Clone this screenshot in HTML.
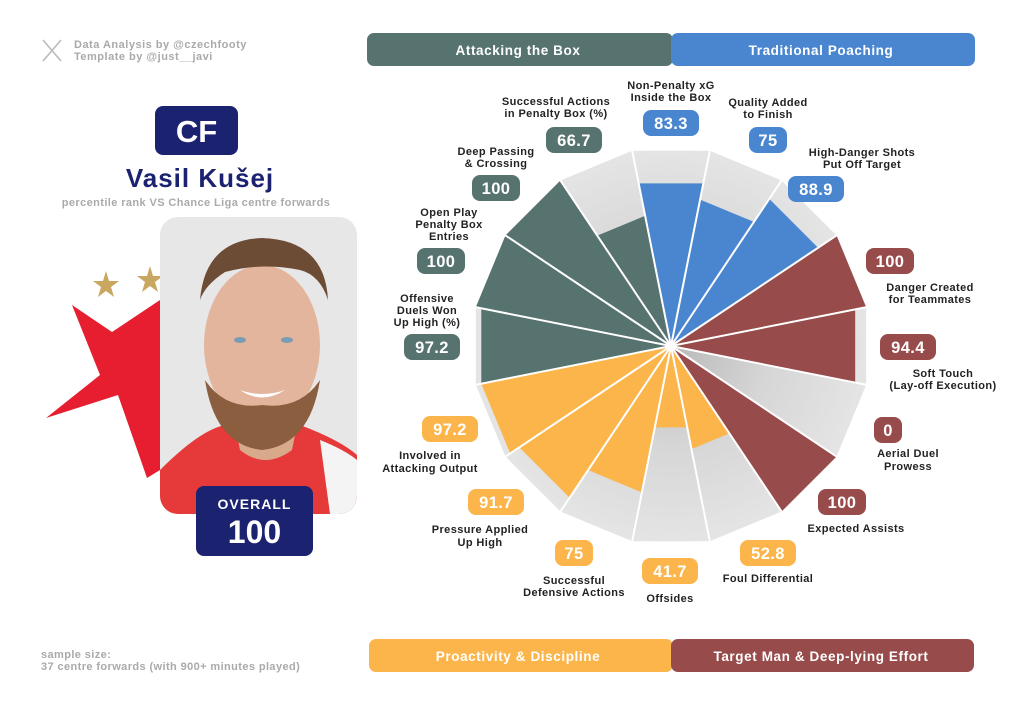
<!DOCTYPE html>
<html><head><meta charset="utf-8"><style>
body{margin:0;width:1024px;height:703px;background:#fff;overflow:hidden;font-family:"Liberation Sans","DejaVu Sans",sans-serif}
</style></head><body>
<svg width="1024" height="703" viewBox="0 0 1024 703" xmlns="http://www.w3.org/2000/svg" font-family="Liberation Sans, DejaVu Sans, sans-serif">
<defs>
<radialGradient id="bg" cx="671" cy="346" r="200" gradientUnits="userSpaceOnUse">
<stop offset="0" stop-color="#b9b9b9"/><stop offset="0.5" stop-color="#d6d6d6"/><stop offset="1" stop-color="#e6e5e5"/></radialGradient>
<clipPath id="card"><rect x="160" y="217" width="197" height="297" rx="18"/></clipPath>
</defs>
<!-- header -->
<g stroke="#bbb" stroke-width="1.6" fill="none"><path d="M43 40 L61 61 M61 40 L43 61"/></g>
<text x="74" y="48" font-size="11" font-weight="bold" fill="#aaa" letter-spacing="0.5">Data Analysis by @czechfooty</text>
<text x="74" y="60" font-size="11" font-weight="bold" fill="#aaa" letter-spacing="0.5">Template by @just__javi</text>
<rect x="155" y="106" width="83" height="49" rx="8" fill="#1b2270"/>
<text x="196.5" y="142" font-size="31" font-weight="bold" fill="#fff" text-anchor="middle">CF</text>
<text x="200" y="187" font-size="26" font-weight="bold" fill="#1b2270" text-anchor="middle" letter-spacing="1">Vasil Kušej</text>
<text x="196" y="206" font-size="11" font-weight="bold" fill="#aaa" text-anchor="middle" letter-spacing="0.4">percentile rank VS Chance Liga centre forwards</text>
<!-- badge -->
<polygon points="72,305 112,332 160,300 160,470 147,478 118,395 46,418 100,375" fill="#e61e30"/>
<polygon points="106,271 109,281 119,281 111,287 114,297 106,291 98,297 101,287 93,281 103,281" fill="#c9a760"/>
<polygon points="150,266 153,276 163,276 155,282 158,292 150,286 142,292 145,282 137,276 147,276" fill="#c9a760"/>
<!-- card -->
<rect x="160" y="217" width="197" height="297" rx="18" fill="#e8e7e8"/>
<g clip-path="url(#card)">
<path d="M160 470 Q200 430 225 425 L300 425 Q340 440 357 455 L357 514 L160 514Z" fill="#e63a3a"/>
<path d="M320 440 Q345 450 357 460 L357 514 L330 514Z" fill="#f4f4f4"/>
<path d="M232 410 L300 410 L292 450 Q265 470 240 450Z" fill="#d9a98c"/>
<ellipse cx="262" cy="345" rx="58" ry="80" fill="#e2b59c"/>
<path d="M205 380 Q215 445 262 450 Q310 445 320 380 Q300 410 262 405 Q225 410 205 380Z" fill="#8a5e3e"/>
<path d="M200 300 Q205 240 262 238 Q325 240 328 300 Q320 275 300 270 Q262 262 225 272 Q205 285 200 300Z" fill="#6d4c35"/>
<ellipse cx="240" cy="340" rx="6" ry="3" fill="#7b9cb4"/><ellipse cx="287" cy="340" rx="6" ry="3" fill="#7b9cb4"/>
<path d="M240 390 Q262 405 285 390 Q262 398 240 390Z" fill="#fff"/>
</g>
<rect x="196" y="486" width="117" height="70" rx="8" fill="#1b2270"/>
<text x="254.5" y="509" font-size="14" font-weight="bold" fill="#fff" text-anchor="middle" letter-spacing="1">OVERALL</text>
<text x="254.5" y="543" font-size="32" font-weight="bold" fill="#fff" text-anchor="middle">100</text>
<text x="41" y="658" font-size="11" font-weight="bold" fill="#aaa" letter-spacing="0.4">sample size:</text>
<text x="41" y="670" font-size="11" font-weight="bold" fill="#aaa" letter-spacing="0.4">37 centre forwards (with 900+ minutes played)</text>
<!-- group headers -->
<rect x="367" y="33" width="306" height="33" rx="7" fill="#577370"/>
<rect x="671" y="33" width="304" height="33" rx="7" fill="#4a86cf"/>
<text x="518" y="55" font-size="13.5" font-weight="bold" fill="#fff" text-anchor="middle" letter-spacing="0.6">Attacking the Box</text>
<text x="821" y="55" font-size="13.5" font-weight="bold" fill="#fff" text-anchor="middle" letter-spacing="0.6">Traditional Poaching</text>
<rect x="369" y="639" width="304" height="33" rx="7" fill="#fbb54b"/>
<rect x="671" y="639" width="303" height="33" rx="7" fill="#984b4b"/>
<text x="518" y="661" font-size="13.5" font-weight="bold" fill="#fff" text-anchor="middle" letter-spacing="0.6">Proactivity &amp; Discipline</text>
<text x="821" y="661" font-size="13.5" font-weight="bold" fill="#fff" text-anchor="middle" letter-spacing="0.6">Target Man &amp; Deep-lying Effort</text>
<g id="chart"></g>
<g id="labels" font-size="11" font-weight="bold" fill="#222" text-anchor="middle" letter-spacing="0.4"></g>
</svg>
<script>
var cx=671,cy=346,R=199;
var vals=[83.3,75,88.9,100,94.4,0,100,52.8,41.7,75,91.7,97.2,97.2,100,100,66.7];
var cols=["#4a86cf","#4a86cf","#4a86cf","#984b4b","#984b4b","#984b4b","#984b4b","#fbb54b","#fbb54b","#fbb54b","#fbb54b","#fbb54b","#577370","#577370","#577370","#577370"];
function pt(a,r){var t=a*Math.PI/180;return (cx+r*Math.sin(t)).toFixed(1)+","+(cy-r*Math.cos(t)).toFixed(1);}
var s="";
for(var i=0;i<16;i++){var a0=i*22.5-11.25,a1=a0+22.5;
s+='<polygon points="'+cx+','+cy+' '+pt(a0,R)+' '+pt(a1,R)+'" fill="url(#bg)"/>';
var r=R*vals[i]/100; if(r>0)s+='<polygon points="'+cx+','+cy+' '+pt(a0,r)+' '+pt(a1,r)+'" fill="'+cols[i]+'"/>';}
for(var i=0;i<16;i++){s+='<line x1="'+cx+'" y1="'+cy+'" x2="'+pt(i*22.5-11.25,R+1).split(",")[0]+'" y2="'+pt(i*22.5-11.25,R+1).split(",")[1]+'" stroke="#fff" stroke-width="2"/>';}
document.getElementById("chart").innerHTML=s;
var L=[
[671,123,"83.3",0,[[671,89,"Non-Penalty xG"],[671,101,"Inside the Box"]]],
[768,140,"75",1,[[768,106,"Quality Added"],[768,118,"to Finish"]]],
[816,189,"88.9",2,[[862,156,"High-Danger Shots"],[862,168,"Put Off Target"]]],
[890,261,"100",3,[[930,291,"Danger Created"],[930,303,"for Teammates"]]],
[908,347,"94.4",4,[[943,377,"Soft Touch"],[943,389,"(Lay-off Execution)"]]],
[888,430,"0",5,[[908,457,"Aerial Duel"],[908,470,"Prowess"]]],
[842,502,"100",6,[[856,532,"Expected Assists"]]],
[768,553,"52.8",7,[[768,582,"Foul Differential"]]],
[670,571,"41.7",8,[[670,602,"Offsides"]]],
[574,553,"75",9,[[574,584,"Successful"],[574,596,"Defensive Actions"]]],
[496,502,"91.7",10,[[480,533,"Pressure Applied"],[480,546,"Up High"]]],
[450,429,"97.2",11,[[430,459,"Involved in"],[430,472,"Attacking Output"]]],
[432,347,"97.2",12,[[427,302,"Offensive"],[427,314,"Duels Won"],[427,326,"Up High (%)"]]],
[441,261,"100",13,[[449,216,"Open Play"],[449,228,"Penalty Box"],[449,240,"Entries"]]],
[496,188,"100",14,[[496,155,"Deep Passing"],[496,167,"& Crossing"]]],
[574,140,"66.7",15,[[556,105,"Successful Actions"],[556,117,"in Penalty Box (%)"]]]];
var t="";
L.forEach(function(l){var w=l[2].length<=1?28:l[2].length==2?38:(l[2].indexOf(".")>0?56:48);
t+='<rect x="'+(l[0]-w/2)+'" y="'+(l[1]-13)+'" width="'+w+'" height="26" rx="8" fill="'+cols[l[3]]+'"/>';
t+='<text x="'+l[0]+'" y="'+(l[1]+6)+'" font-size="16.5" fill="#fff">'+l[2]+'</text>';
l[4].forEach(function(q){t+='<text x="'+q[0]+'" y="'+q[1]+'">'+q[2].replace("&","&amp;")+'</text>';});});
document.getElementById("labels").innerHTML=t;
</script>
</body></html>
